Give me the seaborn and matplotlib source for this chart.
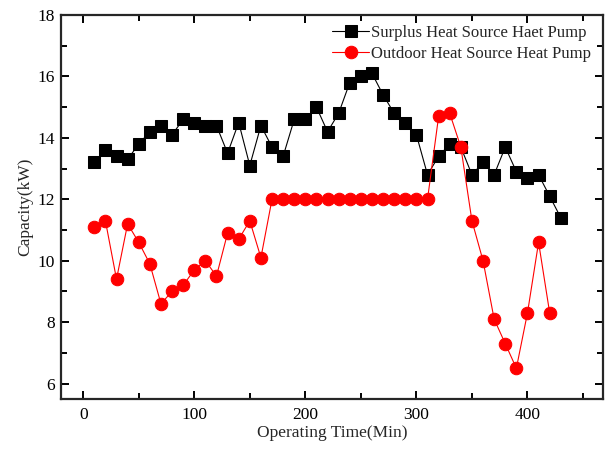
import numpy as np
import pandas as pd
import matplotlib
matplotlib.use("Agg")
import matplotlib.pyplot as plt
import seaborn as sns
from matplotlib.ticker import MultipleLocator

# Data
time_surplus = [10, 20, 30, 40, 50, 60, 70, 80, 90, 100, 110, 120, 130, 140, 150,
                160, 170, 180, 190, 200, 210, 220, 230, 240, 250, 260, 270, 280,
                290, 300, 310, 320, 330, 340, 350, 360, 370, 380, 390, 400, 410,
                420, 430]
cap_surplus = [13.2, 13.6, 13.4, 13.3, 13.8, 14.2, 14.4, 14.1, 14.6, 14.5, 14.4, 14.4,
               13.5, 14.5, 13.1, 14.4, 13.7, 13.4, 14.6, 14.6, 15.0, 14.2, 14.8, 15.8,
               16.0, 16.1, 15.4, 14.8, 14.5, 14.1, 12.8, 13.4, 13.8, 13.7, 12.8, 13.2,
               12.8, 13.7, 12.9, 12.7, 12.8, 12.1, 11.4]

time_outdoor = [10, 20, 30, 40, 50, 60, 70, 80, 90, 100, 110, 120, 130, 140, 150,
                160, 170, 180, 190, 200, 210, 220, 230, 240, 250, 260, 270, 280,
                290, 300, 310, 320, 330, 340, 350, 360, 370, 380, 390, 400, 410, 420]
cap_outdoor = [11.1, 11.3, 9.4, 11.2, 10.6, 9.9, 8.6, 9.0, 9.2, 9.7, 10.0, 9.5,
               10.9, 10.7, 11.3, 10.1, 12.0, 12.0, 12.0, 12.0, 12.0, 12.0, 12.0, 12.0,
               12.0, 12.0, 12.0, 12.0, 12.0, 12.0, 12.0, 14.7, 14.8, 13.7, 11.3, 10.0,
               8.1, 7.3, 6.5, 8.3, 10.6, 8.3]

sns.set_style("ticks")
plt.rcParams['font.family'] = ['Liberation Serif', 'DejaVu Serif']

fig = plt.figure(figsize=(6.05, 4.49), dpi=100)
ax = fig.add_axes([0.1008, 0.1114, 0.8959, 0.8552])

sns.lineplot(x=time_surplus, y=cap_surplus, ax=ax, color="black", marker="s",
             markersize=8, markeredgecolor="black", linewidth=0.8,
             label="Surplus Heat Source Haet Pump")
sns.lineplot(x=time_outdoor, y=cap_outdoor, ax=ax, color="red", marker="o",
             markersize=9, markeredgecolor="red", linewidth=0.8,
             label="Outdoor Heat Source Heat Pump")

ax.set_xlim(-20, 468)
ax.set_ylim(5.5, 18)
ax.xaxis.set_major_locator(MultipleLocator(100))
ax.xaxis.set_minor_locator(MultipleLocator(50))
ax.yaxis.set_major_locator(MultipleLocator(2))
ax.yaxis.set_minor_locator(MultipleLocator(1))

for s in ax.spines.values():
    s.set_visible(True)
    s.set_linewidth(1.6)
ax.tick_params(which="both", direction="in", top=True, right=True,
               width=1.4, labelsize=12.5, colors="black")
ax.tick_params(which="major", length=6)
ax.tick_params(which="minor", length=4)
ax.tick_params(axis="x", which="major", pad=6)
ax.tick_params(axis="y", which="major", pad=4.5)

ax.set_xlabel("Operating Time(Min)", fontsize=12.5, labelpad=1)
ax.set_ylabel("Capacity(kW)", fontsize=12.5, labelpad=3)

ax.legend(loc="upper right", frameon=False, fontsize=12, handlelength=2.2,
          handletextpad=0.15, borderaxespad=0.2, labelspacing=0.3,
          bbox_to_anchor=(0.997, 1.0))

fig.savefig("out.png", dpi=100)
